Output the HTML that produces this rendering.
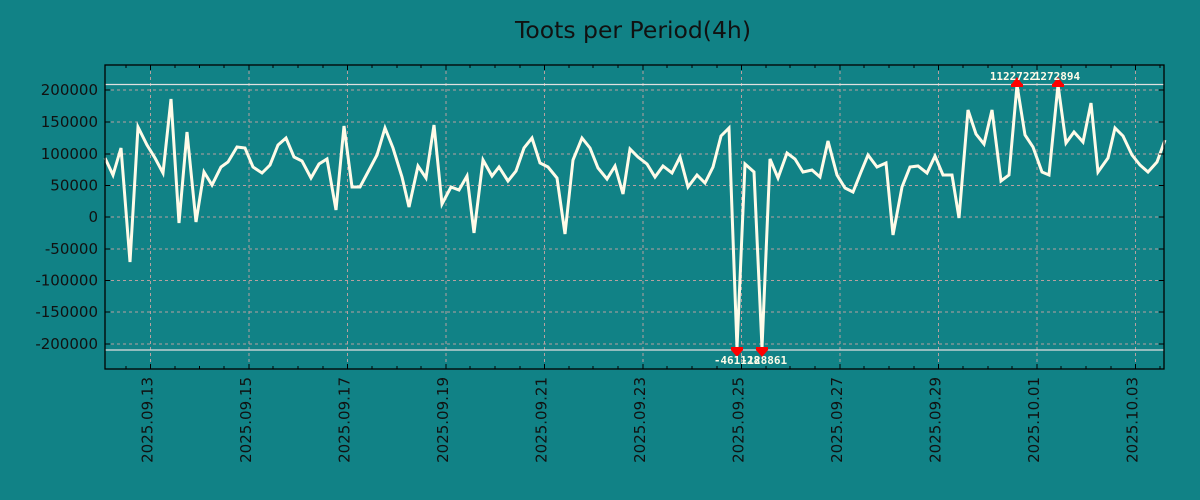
<!DOCTYPE html>
<html><head><meta charset="utf-8"><style>
html,body{margin:0;padding:0;background:#118286;}
svg{display:block;font-family:"DejaVu Sans","Liberation Sans",sans-serif;}
</style></head><body>
<svg width="1200" height="500" viewBox="0 0 1200 500" xmlns="http://www.w3.org/2000/svg">
<rect width="1200" height="500" fill="#118286"/>
<text x="633" y="38" font-size="23.5" text-anchor="middle" fill="#111">Toots per Period(4h)</text>
<g stroke="#b8a0a0" stroke-width="1" stroke-dasharray="3,3">
<line x1="105" x2="1164" y1="90" y2="90"/><line x1="105" x2="1164" y1="122" y2="122"/>
<line x1="105" x2="1164" y1="154" y2="154"/><line x1="105" x2="1164" y1="185.5" y2="185.5"/>
<line x1="105" x2="1164" y1="217" y2="217"/><line x1="105" x2="1164" y1="249" y2="249"/>
<line x1="105" x2="1164" y1="280.5" y2="280.5"/><line x1="105" x2="1164" y1="312" y2="312"/>
<line x1="105" x2="1164" y1="344" y2="344"/>
<line x1="150.5" x2="150.5" y1="65" y2="369"/><line x1="249" x2="249" y1="65" y2="369"/>
<line x1="347.5" x2="347.5" y1="65" y2="369"/><line x1="446" x2="446" y1="65" y2="369"/>
<line x1="544.5" x2="544.5" y1="65" y2="369"/><line x1="643" x2="643" y1="65" y2="369"/>
<line x1="741.5" x2="741.5" y1="65" y2="369"/><line x1="840" x2="840" y1="65" y2="369"/>
<line x1="938.5" x2="938.5" y1="65" y2="369"/><line x1="1037" x2="1037" y1="65" y2="369"/>
<line x1="1135.5" x2="1135.5" y1="65" y2="369"/>
</g>
<line x1="105" x2="1164" y1="84.5" y2="84.5" stroke="#e0e0e0" stroke-width="1.2"/>
<line x1="105" x2="1164" y1="350" y2="350" stroke="#e0e0e0" stroke-width="1.2"/>
<polyline fill="none" stroke="#fffbe8" stroke-width="3" stroke-linejoin="miter" points="105,158 113,175 121,148 130,262 138,127 147,145 155,158 163,173 171,99 179,223 187,132 196,222 204,172 212,185 221,167 228,162 237,147 245,148 253,167 262,173 270,165 278,145 286,138 294,157 302,161 311,178 319,164 327,159 336,210 344,126 352,187 360,187 368,172 377,155 385,128 393,148 402,177 409,207 418,166 426,178 434,125 442,204 451,187 459,190 467,176 474,233 483,160 492,176 499,167 508,181 516,171 524,148 532,138 540,163 548,167 557,178 565,234 573,160 582,138 590,148 598,168 607,179 615,166 623,194 630,149 638,157 647,164 655,177 663,166 672,173 680,157 688,187 697,175 705,183 713,167 721,136 729,128 737,348 745,164 754,172 762,348 770,159 778,178 787,153 795,159 803,172 812,170 820,177 828,141 837,175 845,188 853,192 861,172 868,155 877,167 886,163 893,235 902,187 910,167 918,166 927,173 935,156 943,175 952,175 959,218 968,110 976,134 984,144 992,110 1001,181 1009,175 1017,85 1025,135 1033,147 1042,172 1049,175 1058,85 1066,143 1074,132 1083,142 1091,103 1098,172 1108,158 1115,128 1123,136 1132,155 1140,165 1148,172 1157,162 1165,140"/>
<g fill="#ff0000">
<polygon points="1011,85 1023,85 1017,77"/><rect x="1011" y="84" width="12" height="3"/>
<polygon points="1052,85 1064,85 1058,77"/><rect x="1052" y="84" width="12" height="3"/>
<polygon points="731,350 743,350 737,357"/><rect x="731" y="347" width="12" height="3"/>
<polygon points="756,350 768,350 762,357"/><rect x="756" y="347" width="12" height="3"/>
</g>
<g font-family="'DejaVu Sans Mono','Liberation Mono',monospace" font-size="11" font-weight="bold" fill="#fffbe8" text-anchor="middle">
<text x="1013" y="80">1122722</text><text x="1057" y="80">1272894</text>
<text x="737" y="364">-461128</text><text x="764" y="364">-128861</text>
</g>
<rect x="105" y="65" width="1059" height="304" fill="none" stroke="#000" stroke-width="1.3"/>
<g stroke="#000" stroke-width="1">
<path d="M126,369v-3M150.5,369v-5M175,369v-3M199.5,369v-3M224,369v-3M249,369v-5M273,369v-3M298,369v-3M323,369v-3M347.5,369v-5M372,369v-3M397,369v-3M421,369v-3M446,369v-5M470,369v-3M495,369v-3M520,369v-3M544.5,369v-5M569,369v-3M593,369v-3M618,369v-3M643,369v-5M667,369v-3M692,369v-3M717,369v-3M741.5,369v-5M766,369v-3M790,369v-3M815,369v-3M840,369v-5M864,369v-3M889,369v-3M914,369v-3M938.5,369v-5M963,369v-3M988,369v-3M1012,369v-3M1037,369v-5M1061,369v-3M1086,369v-3M1111,369v-3M1135.5,369v-5M1160,369v-3"/>
<path d="M126,65v3M150.5,65v5M175,65v3M199.5,65v3M224,65v3M249,65v5M273,65v3M298,65v3M323,65v3M347.5,65v5M372,65v3M397,65v3M421,65v3M446,65v5M470,65v3M495,65v3M520,65v3M544.5,65v5M569,65v3M593,65v3M618,65v3M643,65v5M667,65v3M692,65v3M717,65v3M741.5,65v5M766,65v3M790,65v3M815,65v3M840,65v5M864,65v3M889,65v3M914,65v3M938.5,65v5M963,65v3M988,65v3M1012,65v3M1037,65v5M1061,65v3M1086,65v3M1111,65v3M1135.5,65v5M1160,65v3"/>
<path d="M105,90h5M105,122h5M105,154h5M105,185.5h5M105,217h5M105,249h5M105,280.5h5M105,312h5M105,344h5"/>
<path d="M1164,90h-5M1164,122h-5M1164,154h-5M1164,185.5h-5M1164,217h-5M1164,249h-5M1164,280.5h-5M1164,312h-5M1164,344h-5"/>
</g>
<g font-size="15" fill="#111" text-anchor="end">
<text x="98" y="95">200000</text><text x="98" y="127">150000</text><text x="98" y="159">100000</text>
<text x="98" y="190.5">50000</text><text x="98" y="222">0</text><text x="98" y="254">-50000</text>
<text x="98" y="285.5">-100000</text><text x="98" y="317">-150000</text><text x="98" y="349">-200000</text>
</g>
<g font-size="15" fill="#111" text-anchor="end">
<text transform="translate(152.5,377) rotate(-90)">2025.09.13</text>
<text transform="translate(251,377) rotate(-90)">2025.09.15</text>
<text transform="translate(349.5,377) rotate(-90)">2025.09.17</text>
<text transform="translate(448,377) rotate(-90)">2025.09.19</text>
<text transform="translate(546.5,377) rotate(-90)">2025.09.21</text>
<text transform="translate(645,377) rotate(-90)">2025.09.23</text>
<text transform="translate(743.5,377) rotate(-90)">2025.09.25</text>
<text transform="translate(842,377) rotate(-90)">2025.09.27</text>
<text transform="translate(940.5,377) rotate(-90)">2025.09.29</text>
<text transform="translate(1039,377) rotate(-90)">2025.10.01</text>
<text transform="translate(1137.5,377) rotate(-90)">2025.10.03</text>
</g>
</svg>
</body></html>
